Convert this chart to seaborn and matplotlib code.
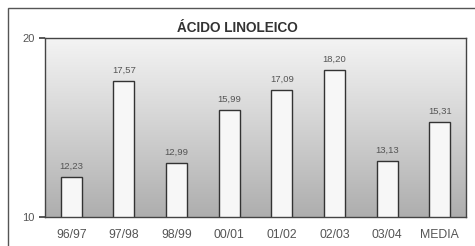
import numpy as np
import matplotlib
matplotlib.use('Agg')
import matplotlib.pyplot as plt
import seaborn as sns
from matplotlib.patches import Rectangle

categorias = ['96/97', '97/98', '98/99', '00/01', '01/02', '02/03', '03/04', 'MEDIA']
valores = [12.23, 17.57, 12.99, 15.99, 17.09, 18.20, 13.13, 15.31]
etiquetas = ['12,23', '17,57', '12,99', '15,99', '17,09', '18,20', '13,13', '15,31']

sns.set_theme(style="white")
plt.rcParams['font.family'] = ['Liberation Sans', 'DejaVu Sans']

fig = plt.figure(figsize=(4.75, 2.46), dpi=100)
ax = fig.add_axes([45/475, 1-217/246, 421/475, 179/246])

# marco exterior
fig.patches.append(Rectangle((8/475, -0.1), 1.2, 1-8/246+0.1, transform=fig.transFigure,
                             fill=False, edgecolor='#555555', linewidth=1.0))

# fondo degradado
grad = np.linspace(0, 1, 256).reshape(-1, 1)
cmap = matplotlib.colors.LinearSegmentedColormap.from_list('g', ['#f4f4f4', '#d2d2d2', '#aeaeae'])
ax.imshow(grad, aspect='auto', cmap=cmap, extent=(-0.5, 7.5, 10, 20), origin='upper', zorder=0)

sns.barplot(x=categorias, y=valores, ax=ax, color='#f7f7f7', width=0.4,
            edgecolor='#333333', linewidth=1.0, zorder=2)
for i, (v, t) in enumerate(zip(valores, etiquetas)):
    ax.text(i, v + 0.35, t, ha='center', va='bottom', fontsize=6.8, color='#555555')

ax.set_xlim(-0.5, 7.5)
ax.set_ylim(10, 20)
ax.set_yticks([10, 20])
ax.set_xticks(np.arange(-0.5, 8, 1), minor=True)
ax.tick_params(axis='x', which='major', length=0, labelsize=8.8, colors='#555555', pad=9)
ax.tick_params(axis='x', which='minor', length=3, color='#444444', direction='out')
ax.tick_params(axis='y', length=4, labelsize=8, colors='#444444', labelcolor='#555555',
               direction='out', left=True)
for s in ax.spines.values():
    s.set_color('#444444')
    s.set_linewidth(1.0)
ax.set_xlabel('')
ax.set_ylabel('')

fig.text(237/475, 1-28/246, 'ÁCIDO LINOLEICO', ha='center', va='center',
         fontsize=9.8, fontweight='bold', color='#333333')

fig.savefig('out.png', dpi=100)
